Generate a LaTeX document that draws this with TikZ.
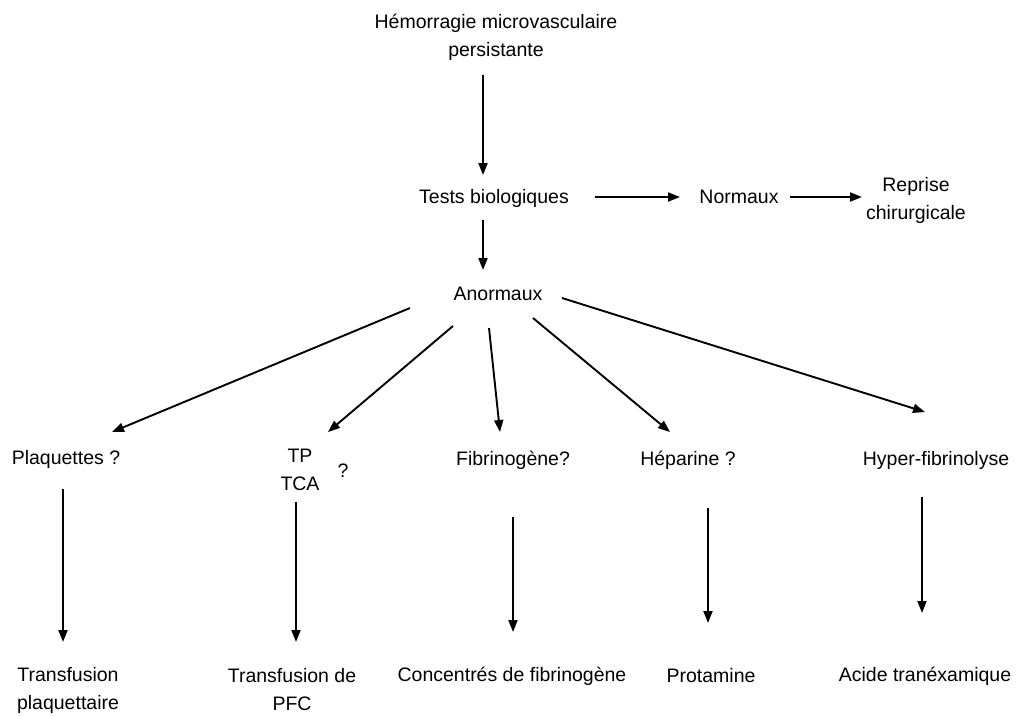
\documentclass[tikz,border=0pt]{standalone}
\usepackage{fontspec}
\setmainfont{Liberation Sans}
\usetikzlibrary{arrows.meta}

\begin{document}
\begin{tikzpicture}[x=1pt,y=-1pt,
    every node/.style={font=\fontsize{19.5}{28}\selectfont,align=center,inner sep=0pt},
    >={Triangle[length=12pt,width=9pt]},line width=1.9pt]
    \useasboundingbox (0,0) rectangle (1017,715);

    \node (hem)    at (496,37)  {Hémorragie microvasculaire\\persistante};
    \node (tests)  at (494,198) {Tests biologiques};
    \node (norm)   at (739,197) {Normaux};
    \node (rep)    at (916,200) {Reprise\\chirurgicale};
    \node (anor)   at (498,294) {Anormaux};

    \node (plaq)   at (66,459)  {Plaquettes ?};
    \node (tp)     at (300,470) {TP\\TCA};
    \node (tpq)    at (343,471) {?};
    \node (fib)    at (513,460) {Fibrinogène?};
    \node (hep)    at (688,460) {Héparine ?};
    \node (hyper)  at (936,460) {Hyper-fibrinolyse};

    \node (tplaq)  at (68,690)  {Transfusion\\plaquettaire};
    \node (tpfc)   at (292,690) {Transfusion de\\PFC};
    \node (conc)   at (512,676) {Concentrés de fibrinogène};
    \node (prot)   at (711,676) {Protamine};
    \node (acide)  at (925,676) {Acide tranéxamique};

    \path[->] ([shift={(-13,38)}]hem.center)   edge ([shift={(-11,-23)}]tests.center)
              ([shift={(101,-1)}]tests.center) edge ([shift={(-59,0)}]norm.center)
              ([shift={(51,0)}]norm.center)    edge ([shift={(-54,-3)}]rep.center)
              ([shift={(-11,22)}]tests.center) edge ([shift={(-15,-24)}]anor.center);

    \path[->] ([shift={(-88,14)}]anor.center)  edge ([shift={(46,-27)}]plaq.center)
              ([shift={(-45,32)}]anor.center)  edge ([shift={(28,-38)}]tp.center)
              ([shift={(-9,34)}]anor.center)   edge ([shift={(-13,-28)}]fib.center)
              ([shift={(35,24)}]anor.center)   edge ([shift={(-18,-28)}]hep.center)
              ([shift={(64,4)}]anor.center)    edge ([shift={(-11,-48)}]hyper.center);

    \path[->] ([shift={(-3,30)}]plaq.center)   edge ([shift={(-5,-48)}]tplaq.center)
              ([shift={(-4,32)}]tp.center)     edge ([shift={(4,-48)}]tpfc.center)
              ([shift={(0,57)}]fib.center)     edge ([shift={(1,-44)}]conc.center)
              ([shift={(20,48)}]hep.center)    edge ([shift={(-3,-53)}]prot.center)
              ([shift={(-14,37)}]hyper.center) edge ([shift={(-3,-63)}]acide.center);
\end{tikzpicture}
\end{document}
